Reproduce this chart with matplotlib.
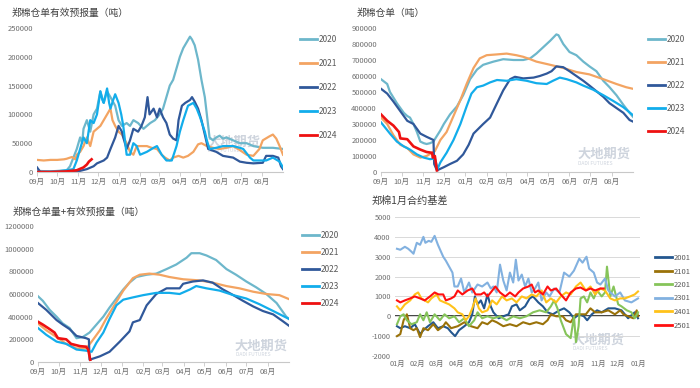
import matplotlib
matplotlib.use('Agg')
import matplotlib.pyplot as plt
from matplotlib.lines import Line2D

plt.rcParams['font.family'] = ['Noto Sans CJK SC', 'DejaVu Sans']

# ---------------- data ----------------
season_month_days = [0, 30, 61, 91, 122, 153, 181, 212, 242, 273, 303, 334]
season_month_labels = ['09月', '10月', '11月', '12月', '01月', '02月', '03月', '04月',
                       '05月', '06月', '07月', '08月']
season_years = ['2020', '2021', '2022', '2023', '2024']

# Panel 1: 郑棉仓单有效预报量 (day since Sep 1, tons)
tl_2020 = [(0,2000),(20,1000),(44,3000),(49,10000),(54,25000),(59,40000),(64,60000),(67,50000),(69,75000),
           (74,90000),(79,70000),(84,100000),(89,110000),(94,140000),(99,120000),(104,140000),(109,130000),
           (116,115000),(121,90000),(126,80000),(133,85000),(138,80000),(143,90000),(150,85000),(158,75000),
           (163,80000),(168,85000),(175,90000),(182,100000),(187,110000),(192,130000),(197,150000),(202,160000),
           (207,180000),(212,200000),(217,215000),(222,225000),(227,235000),(230,230000),(234,220000),
           (239,195000),(244,160000),(249,130000),(254,80000),(256,60000),(261,55000),(266,60000),(271,63000),
           (276,58000),(281,60000),(291,55000),(301,50000),(311,50000),(321,45000),(335,42000),(350,42000),(365,40000)]
tl_2021 = [(0,21000),(10,20000),(20,21000),(30,21000),(40,22000),(44,23000),(49,25000),(52,26000),(57,22000),
           (59,30000),(64,35000),(69,45000),(74,60000),(79,45000),(84,70000),(89,75000),(94,80000),(99,90000),
           (104,100000),(109,110000),(112,90000),(116,80000),(121,70000),(126,65000),(133,50000),(138,35000),
           (143,30000),(148,45000),(155,45000),(163,45000),(170,42000),(178,40000),(185,30000),(190,25000),
           (197,20000),(202,25000),(210,28000),(217,25000),(224,28000),(232,35000),(239,48000),(244,50000),
           (252,45000),(261,42000),(271,40000),(281,42000),(291,45000),(301,38000),(311,30000),(321,28000),
           (330,40000),(335,55000),(345,62000),(350,65000),(355,58000),(360,45000),(365,30000)]
tl_2022 = [(0,8000),(5,0),(30,0),(64,2000),(74,5000),(84,10000),(89,15000),(99,20000),(104,25000),(109,40000),
           (116,60000),(121,80000),(126,70000),(128,60000),(133,40000),(138,55000),(143,75000),(150,70000),
           (155,80000),(160,95000),(164,130000),(167,100000),(173,110000),(178,95000),(182,110000),(187,95000),
           (192,85000),(197,65000),(202,58000),(207,55000),(210,90000),(215,115000),(220,120000),(227,125000),
           (230,130000),(234,122000),(239,110000),(244,90000),(249,65000),(254,40000),(261,37000),(266,35000),
           (276,28000),(291,25000),(301,18000),(311,16000),(321,15000),(335,16000),(340,28000),(350,28000),
           (358,25000),(362,10000),(365,5000)]
tl_2023 = [(0,0),(30,1000),(44,3000),(54,5000),(59,20000),(64,40000),(69,60000),(74,50000),(79,90000),
           (84,85000),(89,100000),(94,140000),(97,125000),(99,120000),(104,145000),(107,120000),(109,110000),
           (113,125000),(116,135000),(121,120000),(125,100000),(128,80000),(133,30000),(138,30000),(143,50000),
           (148,45000),(153,30000),(163,35000),(173,42000),(178,45000),(185,30000),(192,20000),(200,20000),
           (207,45000),(212,70000),(217,90000),(224,115000),(232,120000),(237,110000),(242,95000),(249,70000),
           (252,55000),(256,40000),(266,42000),(276,45000),(291,45000),(301,42000),(306,40000),(316,25000),
           (321,20000),(340,20000),(350,25000),(360,18000),(365,8000)]
tl_2024 = [(0,0),(20,0),(44,1000),(59,3000),(69,8000),(74,13000),(77,18000),(81,22000)]

# Panel 2: 郑棉仓单
tr_2020 = [(0,580000),(9,550000),(13,500000),(23,430000),(33,370000),(38,350000),(42,340000),(47,300000),
           (52,250000),(57,190000),(62,180000),(66,175000),(71,180000),(76,190000),(78,205000),(86,260000),
           (91,300000),(100,360000),(110,410000),(119,480000),(129,580000),(139,640000),(148,670000),
           (163,690000),(177,705000),(192,700000),(206,700000),(216,710000),(225,740000),(235,780000),
           (245,820000),(254,860000),(257,855000),(264,800000),(273,750000),(283,730000),(293,690000),
           (302,660000),(312,630000),(322,570000),(331,530000),(341,480000),(351,420000),(360,370000),(365,345000)]
tr_2021 = [(0,340000),(9,300000),(18,230000),(28,170000),(38,150000),(47,110000),(57,90000),(66,100000),
           (74,120000),(78,130000),(86,200000),(95,250000),(105,350000),(115,450000),(124,550000),(134,650000),
           (143,710000),(153,730000),(168,735000),(182,740000),(196,730000),(206,720000),(216,705000),
           (225,690000),(245,670000),(264,650000),(283,625000),(302,610000),(322,580000),(341,550000),
           (355,530000),(365,520000)]
tr_2022 = [(0,520000),(9,490000),(18,440000),(28,380000),(38,320000),(47,300000),(57,240000),(66,220000),
           (76,200000),(77,50000),(81,10000),(91,30000),(100,50000),(110,70000),(119,110000),(127,170000),
           (134,240000),(141,270000),(148,300000),(158,340000),(168,430000),(177,510000),(187,580000),
           (194,595000),(206,585000),(221,590000),(230,600000),(240,615000),(247,630000),(254,660000),
           (264,655000),(273,630000),(283,600000),(293,570000),(302,540000),(312,505000),(322,470000),
           (331,430000),(341,400000),(351,370000),(360,325000),(365,315000)]
tr_2023 = [(0,310000),(13,240000),(23,190000),(33,160000),(42,140000),(52,110000),(62,90000),(71,80000),
           (78,85000),(82,20000),(86,60000),(95,120000),(105,200000),(115,300000),(124,410000),(131,490000),
           (139,530000),(148,540000),(158,560000),(168,575000),(182,570000),(196,580000),(211,570000),
           (225,555000),(240,550000),(249,570000),(259,590000),(269,580000),(283,560000),(293,540000),
           (307,515000),(322,480000),(336,445000),(351,405000),(365,355000)]
tr_2024 = [(0,360000),(9,320000),(18,290000),(26,250000),(28,210000),(38,205000),(47,160000),(57,140000),
           (66,125000),(74,120000),(75,90000),(78,100000),(81,10000)]

# Panel 3: 郑棉仓单量+有效预报量
bl_2020 = [(0,580000),(7,540000),(17,460000),(27,400000),(36,340000),(46,300000),(56,210000),(65,220000),
           (75,260000),(85,330000),(95,400000),(104,480000),(114,560000),(124,640000),(133,700000),
           (143,750000),(158,770000),(172,780000),(187,820000),(201,860000),(216,920000),(223,960000),
           (235,960000),(245,940000),(259,900000),(274,820000),(288,770000),(303,710000),(317,660000),
           (332,600000),(347,520000),(361,400000),(365,380000)]
bl_2021 = [(0,340000),(12,280000),(27,220000),(41,160000),(56,120000),(70,120000),(78,180000),(90,280000),
           (99,380000),(111,500000),(124,630000),(138,740000),(148,770000),(162,780000),(177,770000),
           (191,750000),(211,730000),(235,720000),(254,700000),(274,670000),(293,650000),(313,620000),
           (332,600000),(351,590000),(365,555000)]
bl_2022 = [(0,520000),(12,460000),(27,370000),(36,330000),(46,290000),(56,230000),(70,210000),(74,200000),
           (75,20000),(90,50000),(104,90000),(119,180000),(133,270000),(138,350000),(148,370000),(158,500000),
           (172,600000),(187,650000),(206,650000),(211,690000),(225,710000),(240,720000),(254,700000),
           (269,640000),(284,590000),(298,540000),(313,490000),(327,450000),(342,420000),(356,360000),(365,320000)]
bl_2023 = [(0,300000),(12,240000),(27,180000),(41,160000),(56,110000),(70,100000),(78,90000),(85,170000),
           (95,260000),(104,380000),(114,500000),(124,550000),(138,570000),(153,590000),(172,610000),
           (191,610000),(206,600000),(221,640000),(230,670000),(245,650000),(264,630000),(284,590000),
           (303,560000),(322,510000),(342,450000),(365,380000)]
bl_2024 = [(0,355000),(7,330000),(17,290000),(24,260000),(29,210000),(41,200000),(48,160000),(61,140000),
           (70,135000),(73,110000),(76,20000)]

# Panel 4: 郑棉1月合约基差 (day since Jan 1, yuan/t)
basis_month_days = [0, 31, 59, 90, 120, 151, 181, 212, 243, 273, 304, 334, 365]
basis_month_labels = ['01月', '02月', '03月', '04月', '05月', '06月', '07月', '08月', '09月',
                      '10月', '11月', '12月', '01月']
basis_names = ['2001', '2101', '2201', '2301', '2401', '2501']
b_2001 = [(0,-500),(5,-600),(12,-500),(20,-600),(27,-400),(35,-900),(40,-700),(47,-500),(55,-300),(62,-600),
          (70,-500),(77,-600),(82,-800),(88,-1000),(94,-700),(102,-500),(109,-300),(114,100),(118,1000),
          (122,600),(127,800),(132,400),(137,1100),(142,500),(146,200),(154,-100),(161,0),(169,100),(174,500),
          (181,600),(186,300),(194,500),(201,900),(206,1000),(214,700),(221,500),(228,200),(236,100),(246,300),
          (253,400),(261,200),(268,-100),(276,100),(283,0),(288,-200),(295,100),(303,300),(310,200),(320,400),
          (330,400),(340,300),(350,-100),(360,200),(365,-100)]
b_2101 = [(0,-1000),(5,-900),(10,-200),(15,100),(20,-600),(25,-700),(30,-600),(35,-1050),(40,-600),(47,-700),
          (55,-400),(62,-700),(70,-500),(74,-300),(82,-600),(92,-500),(102,-300),(112,-500),(122,-600),
          (129,-300),(137,-400),(144,-200),(151,-300),(161,-500),(171,-400),(181,-500),(191,-300),(201,-400),
          (211,-300),(221,-400),(228,-200),(233,100),(241,0),(251,0),(256,-200),(263,-300),(271,100),(278,100),
          (286,100),(293,400),(300,200),(310,200),(320,300),(330,100),(338,300),(343,100),(350,0),(358,-100),
          (363,300),(365,0)]
b_2201 = [(0,-400),(5,0),(10,100),(15,-200),(22,-400),(30,-300),(35,100),(40,-200),(45,200),(50,-300),(57,100),
          (65,-200),(72,100),(79,-100),(87,0),(94,-300),(102,-100),(109,-500),(117,-200),(122,200),(129,-100),
          (137,0),(146,-100),(156,0),(166,-200),(176,0),(186,-100),(196,0),(206,200),(216,300),(226,200),
          (233,500),(238,800),(243,400),(248,-200),(256,-900),(263,-1100),(268,0),(271,-1300),(275,-500),
          (278,900),(283,1000),(288,700),(293,1200),(298,900),(303,1300),(310,1000),(315,1200),(318,2500),
          (323,1000),(328,1500),(335,600),(340,500),(348,300),(355,200),(360,-100),(365,200)]
b_2301 = [(0,3400),(5,3350),(12,3500),(17,3400),(22,3250),(25,3150),(30,3700),(35,3600),(40,4000),(43,3700),
          (48,3800),(52,3750),(57,4050),(62,3600),(70,3000),(74,2800),(79,2500),(84,2200),(87,1500),(92,1500),
          (97,1900),(102,1200),(109,1700),(114,1200),(122,1600),(129,1500),(137,1700),(142,1400),(146,1500),
          (151,1200),(156,2600),(161,1800),(166,1300),(171,2200),(176,1700),(180,2850),(184,1800),(189,2100),
          (194,1500),(199,1900),(204,1200),(209,1400),(214,1700),(219,800),(226,1200),(231,1000),(238,1400),
          (246,1200),(253,2200),(261,2000),(268,2300),(276,2900),(281,2700),(287,3000),(291,2400),(298,2200),
          (303,1700),(308,1600),(315,1900),(320,1300),(330,1000),(338,1200),(345,800),(355,700),(365,900)]
b_2401 = [(0,500),(5,300),(12,600),(20,800),(27,1100),(32,1200),(37,900),(42,800),(47,700),(52,900),(60,1100),
          (65,800),(72,700),(79,600),(87,400),(92,200),(99,100),(104,-200),(109,0),(114,400),(119,900),(124,400),
          (129,200),(137,300),(144,800),(151,600),(159,1000),(166,800),(174,900),(181,700),(189,1000),(196,900),
          (204,1100),(211,1000),(219,1300),(226,700),(233,900),(241,700),(248,1000),(256,1200),(263,1100),
          (271,1500),(278,1700),(286,1300),(293,1500),(300,1100),(308,1400),(315,1300),(323,900),(330,800),
          (338,900),(345,900),(353,1000),(360,1100),(365,1250)]
b_2501 = [(0,800),(5,700),(12,800),(20,900),(27,1000),(35,900),(42,800),(50,1000),(57,1200),(63,1100),(70,1100),
          (74,800),(82,900),(87,1000),(92,1300),(99,1100),(107,1300),(114,1400),(119,1100),(127,1100),(132,1200),
          (137,1000),(142,1200),(149,1500),(156,1200),(164,1000),(171,1200),(179,1000),(184,1200),(191,1400),
          (199,1500),(204,1600),(209,1200),(214,1300),(221,1100),(228,1500),(233,1300),(241,1400),(248,1100),
          (256,800),(263,1200),(271,1400),(278,1450),(286,1300),(293,1400),(300,1300),(308,1400),(313,1400)]

# ---------------- style ----------------
season_colors = ['#6DB7CB', '#F3A462', '#30589A', '#12ADEB', '#EE1111']
season_lw = [1.6, 1.6, 1.6, 1.6, 1.9]
basis_colors = ['#24578F', '#9A7209', '#86C45A', '#82B1E0', '#FFC21A', '#FF1010']
TXT = '#6E6E6E'
LEG = '#595959'
TITLE = '#404040'

W, H = 700, 388
fig = plt.figure(figsize=(7, 3.88), dpi=100)


def rect(x0, x1, y0, y1):
    return [x0 / W, 1 - y1 / H, (x1 - x0) / W, (y1 - y0) / H]


def watermark(ax, x, y):
    ax.text(x / W, 1 - y / H, '大地期货', transform=fig.transFigure, fontsize=9.5,
            color='#C6CDD8', alpha=0.85, zorder=0.5, va='center', ha='left', fontweight='bold')
    ax.text(x / W + 0.002, 1 - (y + 9) / H, 'DADI FUTURES', transform=fig.transFigure, fontsize=3.6,
            color='#C6CDD8', alpha=0.85, zorder=0.5, va='center', ha='left')


def season_panel(r, title, txy, series, ymax, ystep, leg_xy, lspace, wm):
    ax = fig.add_axes(r)
    handles = []
    for pts, name, c, lw in zip(series, season_years, season_colors, season_lw):
        xs = [p[0] for p in pts]
        ys = [p[1] for p in pts]
        ax.plot(xs, ys, color=c, lw=lw, solid_joinstyle='round', zorder=2)
        handles.append(Line2D([], [], color=c, lw=2.0))
    ax.set_xlim(0, 365)
    ax.set_ylim(0, ymax)
    ax.set_xticks(season_month_days)
    ax.set_xticklabels(season_month_labels)
    yt = list(range(0, ymax + 1, ystep))
    ax.set_yticks(yt)
    ax.set_yticklabels([str(v) for v in yt])
    for s in ['top', 'right', 'left']:
        ax.spines[s].set_visible(False)
    ax.spines['bottom'].set_color('#C8C8C8')
    ax.spines['bottom'].set_linewidth(0.8)
    ax.tick_params(axis='x', length=3, width=0.6, color='#C8C8C8', labelsize=5.5, labelcolor=TXT, pad=1.5)
    ax.tick_params(axis='y', length=0, labelsize=5.5, labelcolor=TXT, pad=3)
    ax.patch.set_alpha(0)
    fig.text(txy[0] / W, 1 - txy[1] / H, title, fontsize=7.0, color=TITLE, va='center', ha='left')
    ax.legend(handles, season_years, loc='upper left', bbox_to_anchor=(leg_xy[0] / W, 1 - leg_xy[1] / H),
              bbox_transform=fig.transFigure, frameon=False, fontsize=6, handlelength=2.0,
              handletextpad=0.3, labelspacing=lspace, borderpad=0, borderaxespad=0, labelcolor=LEG)
    watermark(ax, *wm)
    return ax


season_panel(rect(37, 283, 28, 172), '郑棉仓单有效预报量（吨）', (12, 13),
             [tl_2020, tl_2021, tl_2022, tl_2023, tl_2024], 250000, 50000, (300, 35), 1.8, (207, 142))
season_panel(rect(381, 633, 28, 172), '郑棉仓单（吨）', (357, 13),
             [tr_2020, tr_2021, tr_2022, tr_2023, tr_2024], 900000, 100000, (648, 35), 1.68, (577, 154))
season_panel(rect(38, 289, 226, 362), '郑棉仓单量+有效预报量（吨）', (13, 212),
             [bl_2020, bl_2021, bl_2022, bl_2023, bl_2024], 1200000, 200000, (302, 231), 0.97, (235, 346))

# Panel 4
ax4 = fig.add_axes(rect(395, 640, 217, 356))
h4 = []
for pts, name, c in zip([b_2001, b_2101, b_2201, b_2301, b_2401, b_2501], basis_names, basis_colors):
    ax4.plot([p[0] for p in pts], [p[1] for p in pts], color=c, lw=1.5, solid_joinstyle='round', zorder=2)
    h4.append(Line2D([], [], color=c, lw=2.0))
ax4.set_xlim(-3, 368)
ax4.set_ylim(-2000, 5000)
ax4.set_xticks(basis_month_days)
ax4.set_xticklabels(basis_month_labels)
yt4 = list(range(-2000, 5001, 1000))
ax4.set_yticks(yt4)
ax4.set_yticklabels([str(v) for v in yt4])
ax4.grid(axis='y', color='#D9D9D9', lw=0.7, zorder=0)
ax4.axhline(0, color='#111111', lw=1.1, zorder=1)
for s in ax4.spines.values():
    s.set_visible(False)
ax4.tick_params(axis='both', length=0, labelsize=5.3, labelcolor=TXT)
ax4.tick_params(axis='x', pad=3)
ax4.tick_params(axis='y', pad=3)
ax4.patch.set_alpha(0)
fig.text(372 / W, 1 - 201 / H, '郑棉1月合约基差', fontsize=7.3, color=TITLE, va='center', ha='left')
ax4.legend(h4, basis_names, loc='upper left', bbox_to_anchor=(655 / W, 1 - 254 / H),
           bbox_transform=fig.transFigure, frameon=False, fontsize=5.5, handlelength=2.2,
           handletextpad=0.3, labelspacing=0.72, borderpad=0, borderaxespad=0, labelcolor=LEG)
watermark(ax4, 572, 340)

fig.savefig('out.png', dpi=100)
